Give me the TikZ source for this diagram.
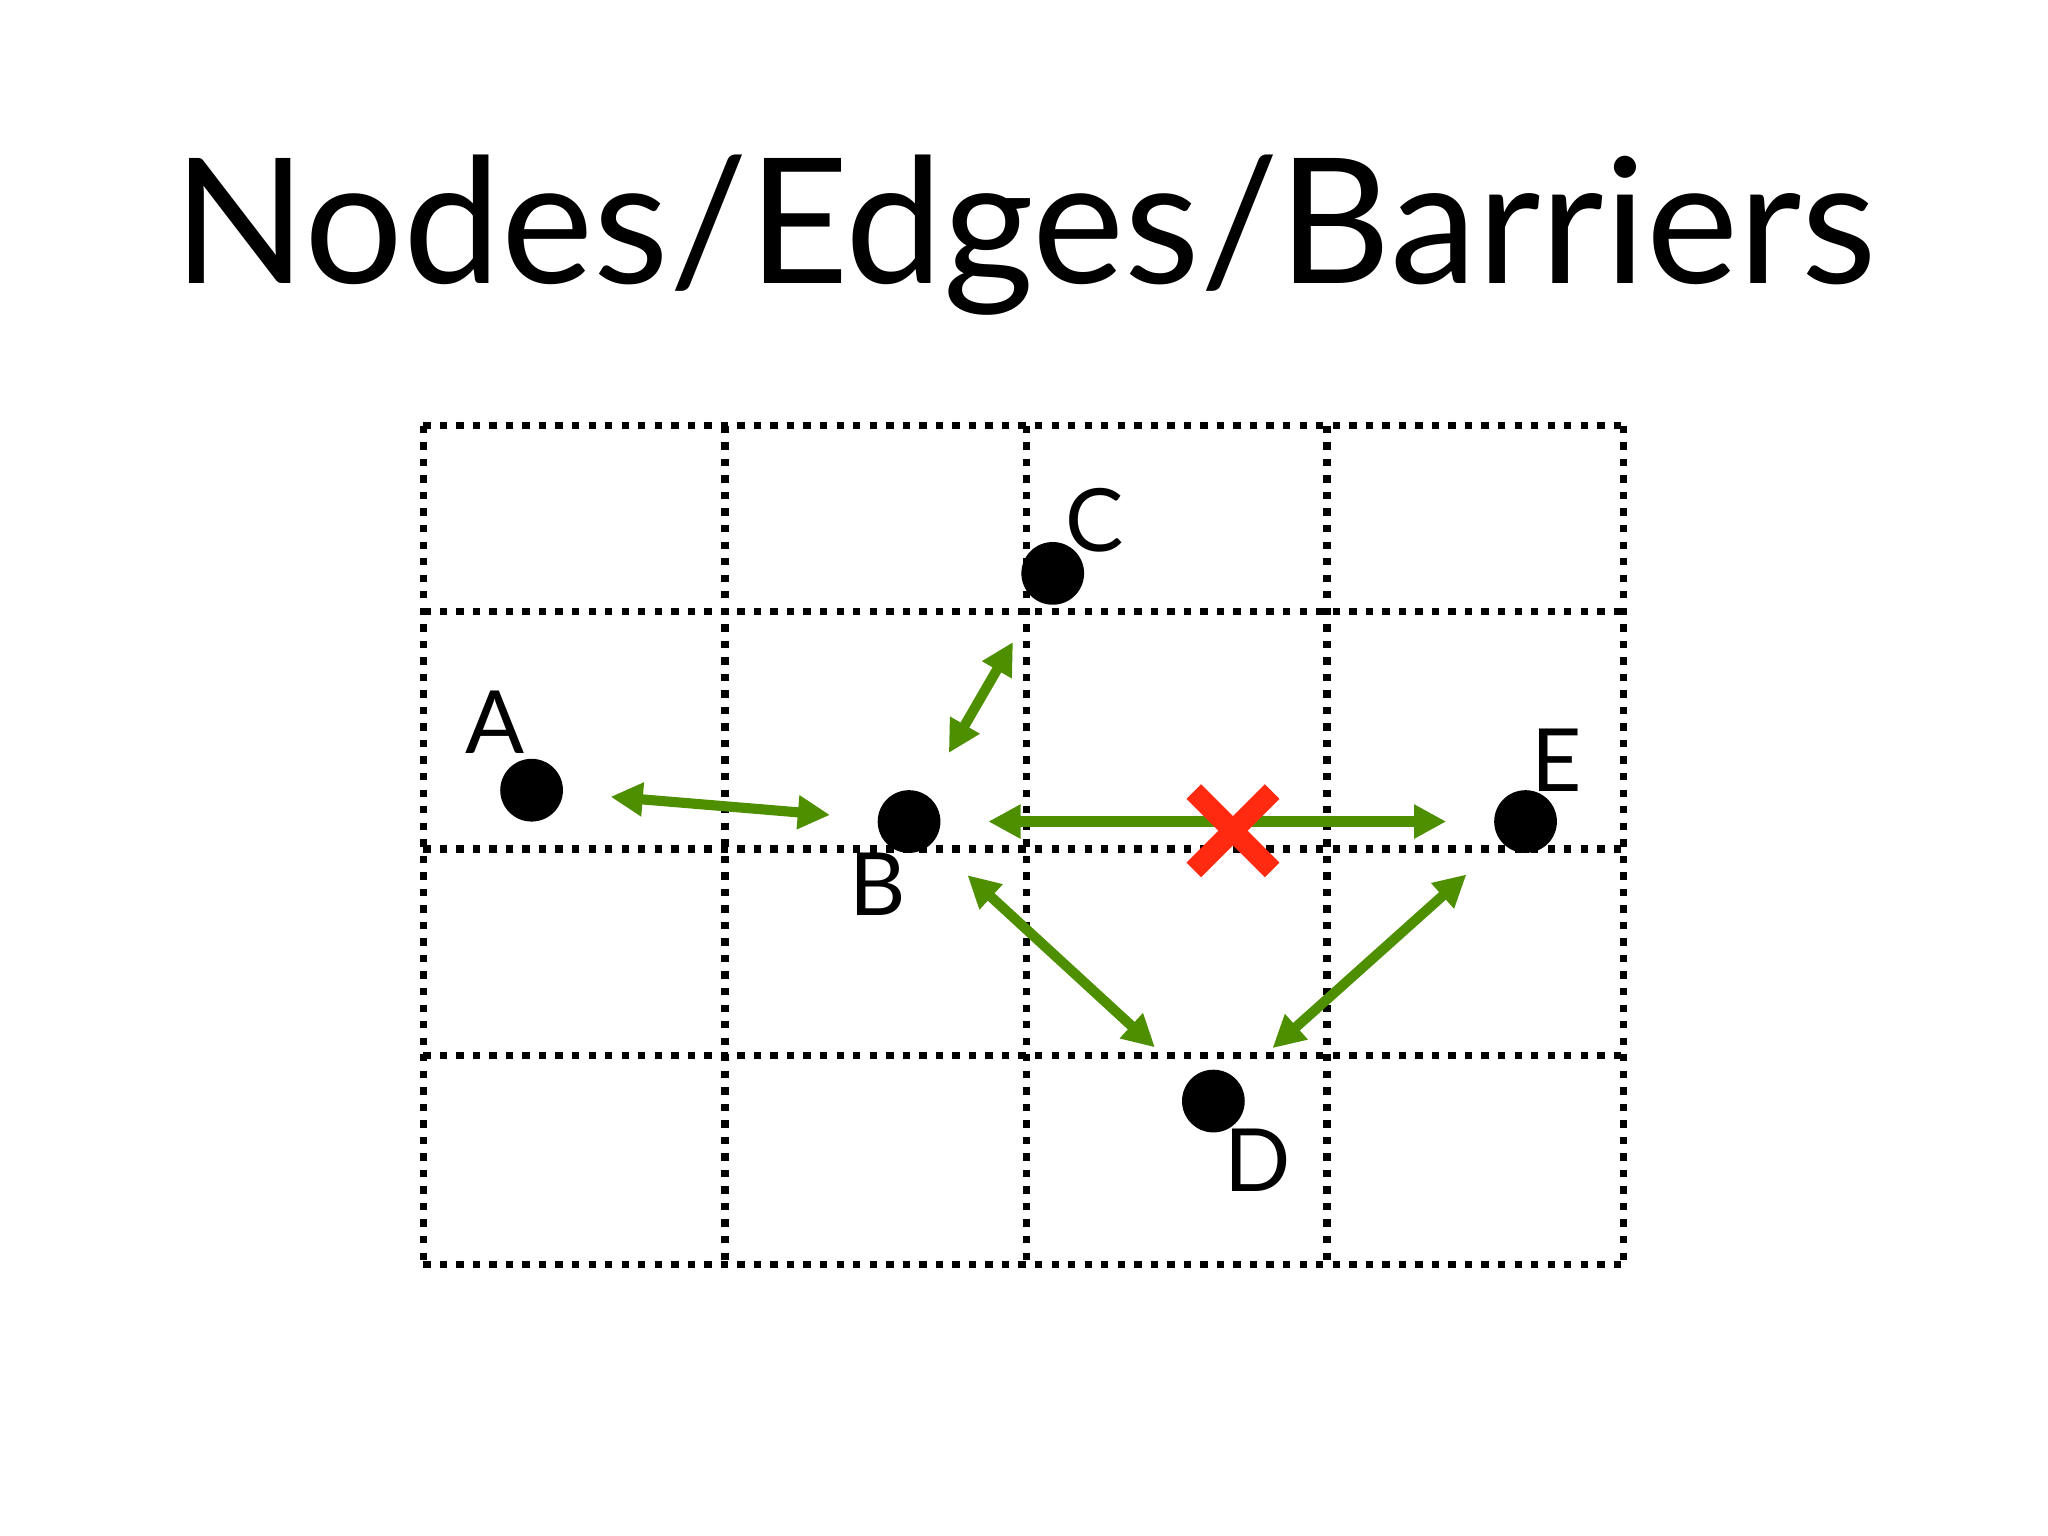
\documentclass[tikz,border=0pt]{standalone}
\usepackage{fontspec}
\setmainfont{Lato}
\usetikzlibrary{arrows.meta}
\definecolor{edgegreen}{HTML}{4E8F00}
\definecolor{barred}{HTML}{FF2A10}
\tikzset{
 gridline/.style={line width=1.6pt,dotted,black},
 pt/.style={circle,fill=black,minimum size=0.48cm,inner sep=0},
 lab/.style={font=\fontsize{19}{19}\selectfont},
 edge/.style={draw=edgegreen,line width=2.2pt,{Triangle[length=7pt,width=7pt]}-{Triangle[length=7pt,width=7pt]},shorten <=0.36cm,shorten >=0.36cm},
}
\begin{document}
\begin{tikzpicture}[x=0.01cm,y=-0.01cm]
\useasboundingbox[fill=white] (0,0) rectangle (1568,1176);
\node[font=\fontsize{38}{38}\selectfont] (title) at (785,180) {Nodes/Edges/Barriers};
\foreach \x in {324,555,786,1016,1243} \draw[gridline] (\x,326) -- (\x,968);
\foreach \y in {326,468,650,808,968} \draw[gridline] (324,\y) -- (1243,\y);
\node[pt] (A) at (407,605) {};
\node[pt] (B) at (696,629) {};
\node[pt] (C) at (806,439) {};
\node[pt] (D) at (929,843) {};
\node[pt] (E) at (1168,629) {};
\node[lab] (la) at (379,553) {A};
\node[lab] (lb) at (672,677) {B};
\node[lab] (lc) at (838,398) {C};
\node[lab] (ld) at (963,888) {D};
\node[lab] (le) at (1192,582) {E};
\draw[edge] (A) -- (B);
\draw[edge] (B) -- (C);
\draw[edge] (B) -- (E);
\draw[edge] (B) -- (D);
\draw[edge] (D) -- (E);
\coordinate (x) at (944,636);
\draw[barred,line width=4.5pt] ([shift={(-30,-30)}]x) -- ([shift={(30,30)}]x);
\draw[barred,line width=4.5pt] ([shift={(-30,30)}]x) -- ([shift={(30,-30)}]x);
\end{tikzpicture}
\end{document}
